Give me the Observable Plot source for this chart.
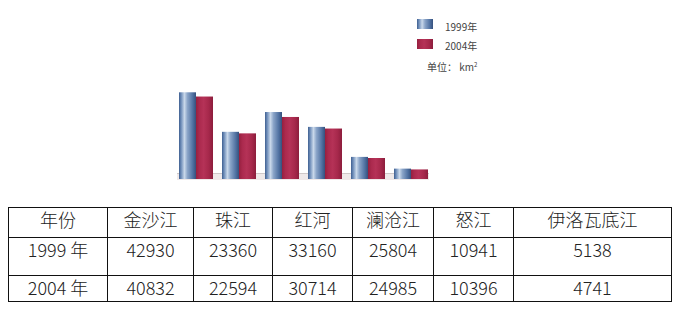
<!DOCTYPE html>
<html>
<head>
<meta charset="utf-8">
<script src="https://cdn.jsdelivr.net/npm/d3@7"></script>
<script src="https://cdn.jsdelivr.net/npm/@observablehq/plot@0.6"></script>
<style>
  html, body { margin: 0; padding: 0; background: #fff; }
  #wrap { position: relative; width: 684px; height: 310px; overflow: hidden; font-family: "Noto Sans CJK SC", "Noto Sans", sans-serif; }
  #chart { position: absolute; left: 0; top: 0; }
  .leg { position: absolute; font-size: 10px; color: #444; line-height: 12px; white-space: nowrap; }
  .sw { position: absolute; width: 16px; height: 10px; }
  table { position: absolute; left: 8px; top: 207px; border-collapse: collapse; font-size: 18px; color: #222; font-weight: 300; }
  td { border: 1.2px solid #111; text-align: center; vertical-align: top; padding: 0; line-height: 22px; box-sizing: border-box; }
</style>
</head>
<body>
<div id="wrap">
  <div id="chart"></div>
</div>
<script>
const rivers = ["金沙江", "珠江", "红河", "澜沧江", "怒江", "伊洛瓦底江"];
const years = ["1999年", "2004年"];
const rowLabels = ["1999 年", "2004 年"];
const headerLabel = "年份";
const values1999 = [42930, 23360, 33160, 25804, 10941, 5138];
const values2004 = [40832, 22594, 30714, 24985, 10396, 4741];
const unitLabel = "单位：";
const unitText = "km";

const rows = rivers.map((r, i) => ({river: r, v1999: values1999[i], v2004: values2004[i]}));

const defs = () => {
  const svg = d3.create("svg:g");
  const d = svg.append("defs");
  const gb = d.append("linearGradient").attr("id", "gBlue").attr("x1", 0).attr("x2", 1).attr("y1", 0).attr("y2", 0);
  [[0, "#3f5f90"], [0.12, "#6d8cb8"], [0.32, "#c9d8ea"], [0.5, "#8aa4c8"], [0.8, "#5273a3"], [1, "#35507d"]]
    .forEach(([o, c]) => gb.append("stop").attr("offset", o).attr("stop-color", c));
  const gr = d.append("linearGradient").attr("id", "gRed").attr("x1", 0).attr("x2", 1).attr("y1", 0).attr("y2", 0);
  [[0, "#96203f"], [0.2, "#ab2a4e"], [0.45, "#b53257"], [0.75, "#a6284b"], [1, "#8c1d3c"]]
    .forEach(([o, c]) => gr.append("stop").attr("offset", o).attr("stop-color", c));
  return svg.node();
};

const chart = Plot.plot({
  width: 684,
  height: 190,
  marginLeft: 177,
  marginRight: 255,
  marginTop: 0,
  marginBottom: 11,
  style: {background: "transparent"},
  x: {domain: rivers, paddingInner: 0.22, paddingOuter: 0, axis: null},
  y: {domain: [0, 88630], axis: null},
  marks: [
    defs,
    Plot.ruleY([0], {stroke: "#efe9e9", strokeWidth: 7, dy: -3}),
    Plot.ruleY([0], {stroke: "#cfc8c8", strokeWidth: 1, dy: -6}),
    Plot.barY(rows, {x: "river", y: "v1999", fill: "url(#gBlue)", insetRight: 17}),
    Plot.barY(rows, {x: "river", y: "v2004", fill: "url(#gRed)", insetLeft: 17})
  ]
});
document.getElementById("chart").appendChild(chart);

const wrap = document.getElementById("wrap");
// legend
const swatches = [
  {bg: "linear-gradient(to right, #3f5f90, #6d8cb8 12%, #c9d8ea 32%, #8aa4c8 50%, #5273a3 80%, #35507d)", top: 19, label: years[0], ty: 20.5},
  {bg: "linear-gradient(to right, #96203f, #ab2a4e 20%, #b53257 45%, #a6284b 75%, #8c1d3c)", top: 39, label: years[1], ty: 39.5}
];
swatches.forEach(s => {
  const sw = document.createElement("div");
  sw.className = "sw";
  sw.style.left = "417px"; sw.style.top = s.top + "px"; sw.style.background = s.bg;
  wrap.appendChild(sw);
  const t = document.createElement("div");
  t.className = "leg";
  t.style.left = "445px"; t.style.top = s.ty + "px";
  t.textContent = s.label;
  wrap.appendChild(t);
});
const u = document.createElement("div");
u.className = "leg";
u.style.left = "427px"; u.style.top = "59px";
u.innerHTML = unitLabel + "&nbsp;" + unitText + "<sup style='font-size:6px'>2</sup>";
wrap.appendChild(u);

// table
const colWidths = [99, 86, 79, 80, 81, 80, 158];
const rowHeights = [30, 38, 26];
const table = document.createElement("table");
const cg = document.createElement("colgroup");
colWidths.forEach(w => { const c = document.createElement("col"); c.style.width = w + "px"; cg.appendChild(c); });
table.appendChild(cg);
table.style.width = colWidths.reduce((a, b) => a + b, 0) + "px";
table.style.tableLayout = "fixed";
const tableRows = [
  [headerLabel, ...rivers],
  [rowLabels[0], ...values1999.map(String)],
  [rowLabels[1], ...values2004.map(String)]
];
tableRows.forEach((r, i) => {
  const tr = document.createElement("tr");
  tr.style.height = rowHeights[i] + "px";
  r.forEach(v => {
    const td = document.createElement("td");
    td.textContent = v;
    td.style.height = rowHeights[i] + "px";
    tr.appendChild(td);
  });
  table.appendChild(tr);
});
wrap.appendChild(table);
</script>
</body>
</html>
